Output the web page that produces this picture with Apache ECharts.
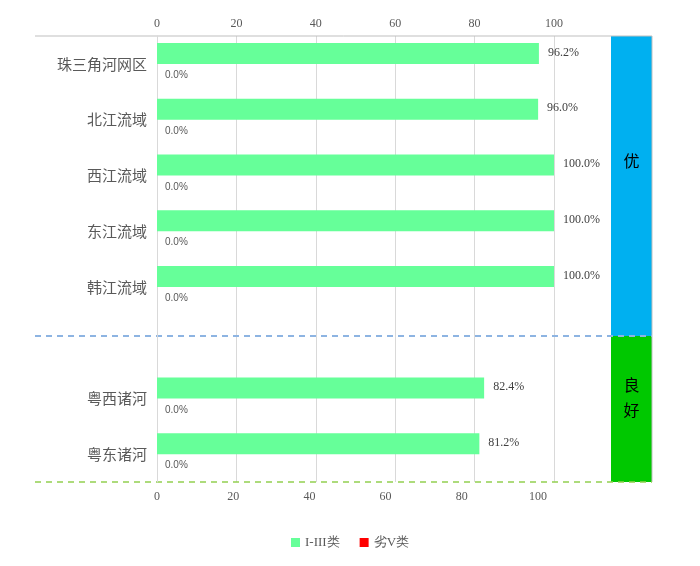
<!DOCTYPE html>
<html>
<head>
<meta charset="utf-8">
<script src="https://cdn.jsdelivr.net/npm/echarts@6/dist/echarts.min.js"></script>
<style>
html,body{margin:0;padding:0;background:#fff;}
#main{width:700px;height:566px;}
</style>
</head>
<body>
<div id="main"></div>
<script>
// 流域名称（空串为分隔行）
var regions=['珠三角河网区','北江流域','西江流域','东江流域','韩江流域','','粤西诸河','粤东诸河'];
var goodVals=[96.2,96.0,100,100,100,'-',82.4,81.2];   // I-III类
var badVals=[0,0,0,0,0,'-',0,0];                      // 劣V类
var xTicks=[0,20,40,60,80,100];
var grades=['优','良\n好'];

var serif='"Liberation Serif","Times New Roman",serif';
var sans='"Liberation Sans","Noto Sans CJK SC",sans-serif';
var cjk='"Noto Sans CJK SC","Liberation Sans",sans-serif';

var chart=echarts.init(document.getElementById('main'),null,{renderer:'canvas'});

function pct(p){return p.value.toFixed(1)+'%';}

var option={
	animation:false,
	backgroundColor:'#fff',
	grid:{left:157,top:36,width:397,height:446,containLabel:false},
	legend:{
		bottom:12,left:'center',
		itemWidth:9,itemHeight:9,itemGap:20,icon:'rect',
		textStyle:{fontFamily:serif,fontSize:13,color:'#595959'},
		data:['I-III类','劣V类']
	},
	xAxis:[{
		type:'value',position:'top',min:0,max:100,interval:20,
		axisLine:{show:false},axisTick:{show:false},
		axisLabel:{fontFamily:serif,fontSize:12,color:'#595959',margin:6},
		splitLine:{lineStyle:{color:'#d9d9d9',width:1}}
	},{
		type:'value',position:'bottom',min:0,max:104.2,interval:20,
		axisLine:{show:false},axisTick:{show:false},splitLine:{show:false},
		axisLabel:{fontFamily:serif,fontSize:12,color:'#595959',margin:9,showMaxLabel:false,
			formatter:function(v){return xTicks.indexOf(v)>=0?v:'';}}
	}],
	yAxis:{
		type:'category',inverse:true,data:regions,
		axisLine:{lineStyle:{color:'#d9d9d9'}},axisTick:{show:false},
		axisLabel:{fontFamily:cjk,fontSize:15,color:'#595959',margin:10}
	},
	series:[{
		name:'I-III类',type:'bar',data:goodVals,barWidth:21,barGap:'0%',
		itemStyle:{color:'#66ff99'},
		label:{show:true,position:'right',distance:9,formatter:pct,
			fontFamily:serif,fontSize:12,color:'#404040',offset:[0,-1]}
	},{
		name:'劣V类',type:'bar',data:badVals,barWidth:21,
		itemStyle:{color:'#ff0000'},
		label:{show:true,position:'right',distance:8,formatter:pct,
			fontFamily:sans,fontSize:10,color:'#595959',offset:[0,1]}
	}]
};
chart.setOption(option);

// 右侧等级色块及分隔虚线
var boxX=611,boxW=41,yTop=36,yMid=336,yBot=482;
chart.setOption({graphic:[
	{type:'rect',shape:{x:boxX,y:yTop,width:boxW,height:yMid-yTop},style:{fill:'#00b0f0'}},
	{type:'rect',shape:{x:boxX,y:yMid,width:boxW,height:yBot-yMid},style:{fill:'#00c800'}},
	{type:'line',shape:{x1:35,y1:yTop,x2:boxX+boxW,y2:yTop},style:{stroke:'#bfbfbf',lineWidth:1}},
	{type:'line',shape:{x1:boxX+boxW,y1:yTop,x2:boxX+boxW,y2:yBot},style:{stroke:'#bfbfbf',lineWidth:1}},
	{type:'line',shape:{x1:35,y1:yMid,x2:boxX+boxW,y2:yMid},style:{stroke:'#8db4e2',lineWidth:2,lineDash:[6,5]}},
	{type:'line',shape:{x1:35,y1:yBot,x2:boxX+boxW,y2:yBot},style:{stroke:'#92d050',lineWidth:1.5,lineDash:[6,5]}},
	{type:'text',x:boxX+boxW/2,y:161,style:{text:grades[0],fill:'#000',font:'16px '+cjk,align:'center',verticalAlign:'middle'}},
	{type:'text',x:boxX+boxW/2,y:397,style:{text:grades[1],fill:'#000',font:'16px '+cjk,align:'center',verticalAlign:'middle',lineHeight:25}}
]});
</script>
</body>
</html>
